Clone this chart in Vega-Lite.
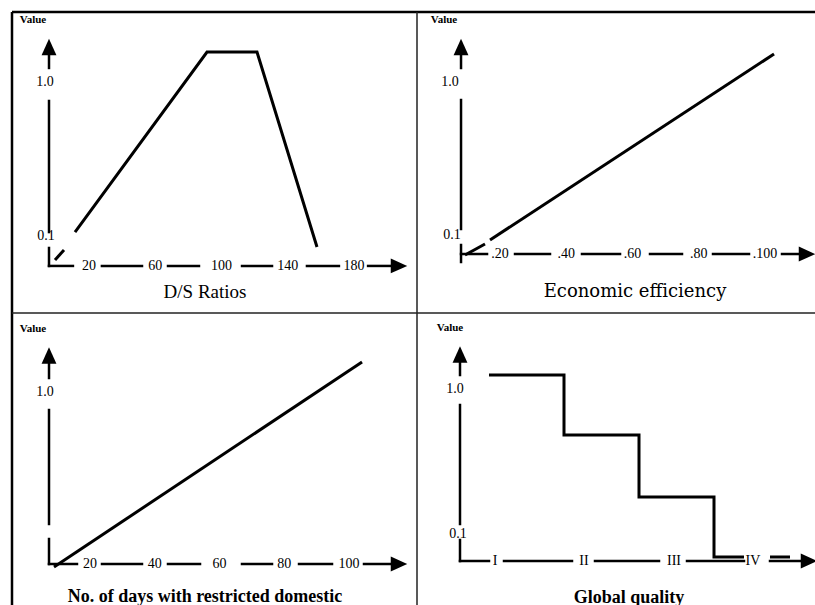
{
  "$schema": "https://vega.github.io/schema/vega-lite/v6.json",
  "padding": {"left": 10, "top": 10, "right": 0, "bottom": 0},
  "background": "white",
  "config": {"view": {"stroke": null}},
  "datasets": {
    "tl": [
      {"kind": "edge", "x": -26.49, "x2": 218.04, "y": 1.409, "y2": 1.409},
      {"kind": "edge", "x": -26.49, "x2": -26.49, "y": -0.35, "y2": 1.409},
      {"kind": "axis", "x": -4.15, "x2": -4.15, "y": 1.158, "y2": 1.082},
      {"kind": "axis", "x": -4.15, "x2": -4.15, "y": 0.889, "y2": 0.123},
      {"kind": "axis", "x": -4.15, "x2": -4.15, "y": 0.03, "y2": -0.075},
      {"kind": "axis", "x": -4.15, "x2": 10.3, "y": -0.075, "y2": -0.075},
      {"kind": "axis", "x": 27.8, "x2": 52.0, "y": -0.075, "y2": -0.075},
      {"kind": "axis", "x": 67.7, "x2": 86.4, "y": -0.075, "y2": -0.075},
      {"kind": "axis", "x": 112.4, "x2": 130.5, "y": -0.075, "y2": -0.075},
      {"kind": "axis", "x": 151.6, "x2": 170.9, "y": -0.075, "y2": -0.075},
      {"kind": "axis", "x": 188.5, "x2": 204.2, "y": -0.075, "y2": -0.075},
      {"kind": "arrow", "dir": "up", "x": -4.15, "y": 1.205},
      {"kind": "arrow", "dir": "right", "x": 207.17, "y": -0.075},
      {"kind": "tick", "label": "20", "x": 20, "y": -0.075},
      {"kind": "tick", "label": "60", "x": 60, "y": -0.075},
      {"kind": "tick", "label": "100", "x": 100, "y": -0.075},
      {"kind": "tick", "label": "140", "x": 140, "y": -0.075},
      {"kind": "tick", "label": "180", "x": 180, "y": -0.075},
      {"kind": "tick", "label": "1.0", "x": -6.57, "y": 1.0},
      {"kind": "tick", "label": "0.1", "x": -6.0, "y": 0.1},
      {"kind": "value", "label": "Value", "x": -13.81, "y": 1.362},
      {"kind": "curve", "seg": "a", "x": -0.53, "y": -0.04},
      {"kind": "curve", "seg": "a", "x": 4.9, "y": 0.018},
      {"kind": "curve", "seg": "b", "x": 11.55, "y": 0.123},
      {"kind": "curve", "seg": "b", "x": 91.25, "y": 1.175},
      {"kind": "curve", "seg": "b", "x": 121.43, "y": 1.175},
      {"kind": "curve", "seg": "b", "x": 157.66, "y": 0.036},
      {"kind": "title", "label": "D/S Ratios", "x": 90.04, "y": -0.227}
    ],
    "tr": [
      {"kind": "edge", "x": -0.0506, "x2": 1.1509, "y": 1.4118, "y2": 1.4118},
      {"kind": "divider", "x": -0.0506, "x2": -0.0506, "y": -0.3588, "y2": 1.4118},
      {"kind": "axis", "x": 0.0823, "x2": 0.0823, "y": 1.1588, "y2": 1.0824},
      {"kind": "axis", "x": 0.0823, "x2": 0.0823, "y": 0.8941, "y2": 0.1353},
      {"kind": "axis", "x": 0.0823, "x2": 0.0823, "y": 0.0412, "y2": -0.0588},
      {"kind": "axis", "x": 0.0823, "x2": 0.1608, "y": -0.0118, "y2": -0.0118},
      {"kind": "axis", "x": 0.2453, "x2": 0.3509, "y": -0.0118, "y2": -0.0118},
      {"kind": "axis", "x": 0.4475, "x2": 0.5623, "y": -0.0118, "y2": -0.0118},
      {"kind": "axis", "x": 0.6528, "x2": 0.7494, "y": -0.0118, "y2": -0.0118},
      {"kind": "axis", "x": 0.843, "x2": 0.9517, "y": -0.0118, "y2": -0.0118},
      {"kind": "axis", "x": 1.0513, "x2": 1.1057, "y": -0.0118, "y2": -0.0118},
      {"kind": "arrow", "dir": "up", "x": 0.0823, "y": 1.2059},
      {"kind": "arrow", "dir": "right", "x": 1.1268, "y": -0.0118},
      {"kind": "tick", "label": ".20", "x": 0.2, "y": -0.0118},
      {"kind": "tick", "label": ".40", "x": 0.4, "y": -0.0118},
      {"kind": "tick", "label": ".60", "x": 0.6, "y": -0.0118},
      {"kind": "tick", "label": ".80", "x": 0.8, "y": -0.0118},
      {"kind": "tick", "label": ".100", "x": 1.0, "y": -0.0118},
      {"kind": "tick", "label": "1.0", "x": 0.0491, "y": 1.0},
      {"kind": "tick", "label": "0.1", "x": 0.0551, "y": 0.1},
      {"kind": "value", "label": "Value", "x": 0.0309, "y": 1.3647},
      {"kind": "curve", "seg": "a", "x": 0.0943, "y": -0.0176},
      {"kind": "curve", "seg": "a", "x": 0.1547, "y": 0.0471},
      {"kind": "curve", "seg": "b", "x": 0.1698, "y": 0.0706},
      {"kind": "curve", "seg": "b", "x": 1.0272, "y": 1.1647},
      {"kind": "title", "label": "Economic efficiency", "x": 0.6075, "y": -0.2353}
    ],
    "bl": [
      {"kind": "divider", "x": -4.09, "x2": 121.0, "y": 1.4593, "y2": 1.4593},
      {"kind": "edge", "x": -4.09, "x2": -4.09, "y": -0.2384, "y2": 1.4593},
      {"kind": "axis", "x": 7.34, "x2": 7.34, "y": 1.1628, "y2": 1.0814},
      {"kind": "axis", "x": 7.34, "x2": 7.34, "y": 0.8953, "y2": 0.2326},
      {"kind": "axis", "x": 7.34, "x2": 7.34, "y": 0.1453, "y2": 0.0},
      {"kind": "axis", "x": 7.34, "x2": 15.98, "y": 0.0, "y2": 0.0},
      {"kind": "axis", "x": 23.71, "x2": 36.06, "y": 0.0, "y2": 0.0},
      {"kind": "axis", "x": 44.09, "x2": 53.98, "y": 0.0, "y2": 0.0},
      {"kind": "axis", "x": 66.95, "x2": 76.22, "y": 0.0, "y2": 0.0},
      {"kind": "axis", "x": 84.56, "x2": 94.75, "y": 0.0, "y2": 0.0},
      {"kind": "axis", "x": 104.63, "x2": 113.9, "y": 0.0, "y2": 0.0},
      {"kind": "arrow", "dir": "up", "x": 7.34, "y": 1.2122},
      {"kind": "arrow", "dir": "right", "x": 115.44, "y": 0.0},
      {"kind": "tick", "label": "20", "x": 20, "y": 0.0},
      {"kind": "tick", "label": "40", "x": 40, "y": 0.0},
      {"kind": "tick", "label": "60", "x": 60, "y": 0.0},
      {"kind": "tick", "label": "80", "x": 80, "y": 0.0},
      {"kind": "tick", "label": "100", "x": 100, "y": 0.0},
      {"kind": "tick", "label": "1.0", "x": 6.1, "y": 1.0},
      {"kind": "value", "label": "Value", "x": 2.39, "y": 1.3663},
      {"kind": "curve", "seg": "b", "x": 8.88, "y": -0.0174},
      {"kind": "curve", "seg": "b", "x": 104.02, "y": 1.1744},
      {"kind": "title", "label": "No. of days with restricted domestic", "x": 55.52, "y": -0.19}
    ],
    "br": [
      {"kind": "divider", "x": 0.093, "x2": 4.7209, "y": 1.4718, "y2": 1.4718},
      {"kind": "divider", "x": 0.093, "x2": 0.093, "y": -0.3408, "y2": 1.4718},
      {"kind": "axis", "x": 0.593, "x2": 0.593, "y": 1.1676, "y2": 1.0869},
      {"kind": "axis", "x": 0.593, "x2": 0.593, "y": 0.9007, "y2": 0.162},
      {"kind": "axis", "x": 0.593, "x2": 0.593, "y": 0.0627, "y2": -0.0677},
      {"kind": "axis", "x": 0.593, "x2": 0.9302, "y": -0.0677, "y2": -0.0677},
      {"kind": "axis", "x": 1.1047, "x2": 1.8953, "y": -0.0677, "y2": -0.0677},
      {"kind": "axis", "x": 2.1628, "x2": 2.907, "y": -0.0677, "y2": -0.0677},
      {"kind": "axis", "x": 3.2326, "x2": 3.8953, "y": -0.0677, "y2": -0.0677},
      {"kind": "axis", "x": 4.1977, "x2": 4.593, "y": -0.0677, "y2": -0.0677},
      {"kind": "arrow", "dir": "up", "x": 0.593, "y": 1.2142},
      {"kind": "arrow", "dir": "right", "x": 4.6512, "y": -0.0677},
      {"kind": "tick", "label": "I", "x": 1.0, "y": -0.0677},
      {"kind": "tick", "label": "II", "x": 2.035, "y": -0.0677},
      {"kind": "tick", "label": "III", "x": 3.081, "y": -0.0677},
      {"kind": "tick", "label": "IV", "x": 4.0, "y": -0.0677},
      {"kind": "tick", "label": "1.0", "x": 0.5349, "y": 1.0},
      {"kind": "tick", "label": "0.1", "x": 0.5698, "y": 0.1},
      {"kind": "value", "label": "Value", "x": 0.4767, "y": 1.3786},
      {"kind": "curve", "seg": "a", "x": 0.9302, "y": 1.0869},
      {"kind": "curve", "seg": "a", "x": 1.8023, "y": 0.7145},
      {"kind": "curve", "seg": "a", "x": 2.6744, "y": 0.3296},
      {"kind": "curve", "seg": "a", "x": 3.5465, "y": -0.0428},
      {"kind": "curve", "seg": "a", "x": 3.8953, "y": -0.0428},
      {"kind": "curve", "seg": "b", "x": 4.1977, "y": -0.0428},
      {"kind": "curve", "seg": "b", "x": 4.4302, "y": -0.0428},
      {"kind": "title", "label": "Global quality", "x": 2.5581, "y": -0.295}
    ]
  },
  "columns": 2,
  "spacing": 0,
  "bounds": "flush",
  "align": "each",
  "resolve": {"scale": {"x": "independent", "y": "independent"}},
  "concat": [
    {
      "width": 405, "height": 301,
      "data": {"name": "tl"},
      "encoding": {
        "x": {"field": "x", "type": "quantitative", "scale": {"domain": [-26.49, 218.04], "nice": false, "zero": false}, "axis": null},
        "y": {"field": "y", "type": "quantitative", "scale": {"domain": [-0.35, 1.409], "nice": false, "zero": false}, "axis": null}
      },
      "layer": [
        {"transform": [{"filter": "datum.kind === 'edge'"}], "mark": {"type": "rule", "color": "#000", "strokeWidth": 2.5}, "encoding": {"x2": {"field": "x2"}, "y2": {"field": "y2"}}},
        {"transform": [{"filter": "datum.kind === 'divider'"}], "mark": {"type": "rule", "color": "#222", "strokeWidth": 1.5}, "encoding": {"x2": {"field": "x2"}, "y2": {"field": "y2"}}},
        {"transform": [{"filter": "datum.kind === 'axis'"}], "mark": {"type": "rule", "color": "#000", "strokeWidth": 2.5, "strokeCap": "square", "clip": true}, "encoding": {"x2": {"field": "x2"}, "y2": {"field": "y2"}}},
        {"transform": [{"filter": "datum.kind === 'curve'"}], "mark": {"type": "line", "color": "#000", "strokeWidth": 3, "strokeJoin": "miter", "clip": true}, "encoding": {"detail": {"field": "seg", "type": "nominal"}}},
        {"transform": [{"filter": "datum.kind === 'arrow'"}], "mark": {"type": "point", "filled": true, "color": "#000", "opacity": 1, "size": 272, "strokeWidth": 0, "clip": true}, "encoding": {"shape": {"field": "dir", "type": "nominal", "scale": {"domain": ["up", "right"], "range": ["M0,-1L0.9,1L-0.9,1Z", "M1,0L-1,-0.9L-1,0.9Z"]}, "legend": null}}},
        {"transform": [{"filter": "datum.kind === 'tick'"}], "mark": {"type": "text", "font": "Liberation Serif, serif", "fontSize": 14, "color": "#000", "align": "center", "baseline": "middle", "clip": true}, "encoding": {"text": {"field": "label"}}},
        {"transform": [{"filter": "datum.kind === 'value'"}], "mark": {"type": "text", "font": "Liberation Serif, serif", "fontSize": 11, "fontWeight": "bold", "color": "#000", "align": "center", "baseline": "middle", "clip": true}, "encoding": {"text": {"field": "label"}}},
        {"transform": [{"filter": "datum.kind === 'title'"}], "mark": {"type": "text", "font": "Liberation Serif, serif", "fontSize": 19, "color": "#000", "align": "center", "baseline": "middle", "clip": true}, "encoding": {"text": {"field": "label"}}}
      ]
    },
    {
      "width": 398, "height": 301,
      "data": {"name": "tr"},
      "encoding": {
        "x": {"field": "x", "type": "quantitative", "scale": {"domain": [-0.0506, 1.1509], "nice": false, "zero": false}, "axis": null},
        "y": {"field": "y", "type": "quantitative", "scale": {"domain": [-0.3588, 1.4118], "nice": false, "zero": false}, "axis": null}
      },
      "layer": [
        {"transform": [{"filter": "datum.kind === 'edge'"}], "mark": {"type": "rule", "color": "#000", "strokeWidth": 2.5}, "encoding": {"x2": {"field": "x2"}, "y2": {"field": "y2"}}},
        {"transform": [{"filter": "datum.kind === 'divider'"}], "mark": {"type": "rule", "color": "#222", "strokeWidth": 1.5}, "encoding": {"x2": {"field": "x2"}, "y2": {"field": "y2"}}},
        {"transform": [{"filter": "datum.kind === 'axis'"}], "mark": {"type": "rule", "color": "#000", "strokeWidth": 2.5, "strokeCap": "square", "clip": true}, "encoding": {"x2": {"field": "x2"}, "y2": {"field": "y2"}}},
        {"transform": [{"filter": "datum.kind === 'curve'"}], "mark": {"type": "line", "color": "#000", "strokeWidth": 3, "strokeJoin": "miter", "clip": true}, "encoding": {"detail": {"field": "seg", "type": "nominal"}}},
        {"transform": [{"filter": "datum.kind === 'arrow'"}], "mark": {"type": "point", "filled": true, "color": "#000", "opacity": 1, "size": 272, "strokeWidth": 0, "clip": true}, "encoding": {"shape": {"field": "dir", "type": "nominal", "scale": {"domain": ["up", "right"], "range": ["M0,-1L0.9,1L-0.9,1Z", "M1,0L-1,-0.9L-1,0.9Z"]}, "legend": null}}},
        {"transform": [{"filter": "datum.kind === 'tick'"}], "mark": {"type": "text", "font": "Liberation Serif, serif", "fontSize": 14, "color": "#000", "align": "center", "baseline": "middle", "clip": true}, "encoding": {"text": {"field": "label"}}},
        {"transform": [{"filter": "datum.kind === 'value'"}], "mark": {"type": "text", "font": "Liberation Serif, serif", "fontSize": 11, "fontWeight": "bold", "color": "#000", "align": "center", "baseline": "middle", "clip": true}, "encoding": {"text": {"field": "label"}}},
        {"transform": [{"filter": "datum.kind === 'title'"}], "mark": {"type": "text", "font": "DejaVu Serif", "fontSize": 18, "color": "#000", "align": "center", "baseline": "middle", "clip": true}, "encoding": {"text": {"field": "label"}}}
      ]
    },
    {
      "width": 405, "height": 292,
      "data": {"name": "bl"},
      "encoding": {
        "x": {"field": "x", "type": "quantitative", "scale": {"domain": [-4.09, 121.0], "nice": false, "zero": false}, "axis": null},
        "y": {"field": "y", "type": "quantitative", "scale": {"domain": [-0.2384, 1.4593], "nice": false, "zero": false}, "axis": null}
      },
      "layer": [
        {"transform": [{"filter": "datum.kind === 'edge'"}], "mark": {"type": "rule", "color": "#000", "strokeWidth": 2.5}, "encoding": {"x2": {"field": "x2"}, "y2": {"field": "y2"}}},
        {"transform": [{"filter": "datum.kind === 'divider'"}], "mark": {"type": "rule", "color": "#222", "strokeWidth": 1.5}, "encoding": {"x2": {"field": "x2"}, "y2": {"field": "y2"}}},
        {"transform": [{"filter": "datum.kind === 'axis'"}], "mark": {"type": "rule", "color": "#000", "strokeWidth": 2.5, "strokeCap": "square", "clip": true}, "encoding": {"x2": {"field": "x2"}, "y2": {"field": "y2"}}},
        {"transform": [{"filter": "datum.kind === 'curve'"}], "mark": {"type": "line", "color": "#000", "strokeWidth": 3, "strokeJoin": "miter", "clip": true}, "encoding": {"detail": {"field": "seg", "type": "nominal"}}},
        {"transform": [{"filter": "datum.kind === 'arrow'"}], "mark": {"type": "point", "filled": true, "color": "#000", "opacity": 1, "size": 272, "strokeWidth": 0, "clip": true}, "encoding": {"shape": {"field": "dir", "type": "nominal", "scale": {"domain": ["up", "right"], "range": ["M0,-1L0.9,1L-0.9,1Z", "M1,0L-1,-0.9L-1,0.9Z"]}, "legend": null}}},
        {"transform": [{"filter": "datum.kind === 'tick'"}], "mark": {"type": "text", "font": "Liberation Serif, serif", "fontSize": 14, "color": "#000", "align": "center", "baseline": "middle", "clip": true}, "encoding": {"text": {"field": "label"}}},
        {"transform": [{"filter": "datum.kind === 'value'"}], "mark": {"type": "text", "font": "Liberation Serif, serif", "fontSize": 11, "fontWeight": "bold", "color": "#000", "align": "center", "baseline": "middle", "clip": true}, "encoding": {"text": {"field": "label"}}},
        {"transform": [{"filter": "datum.kind === 'title'"}], "mark": {"type": "text", "font": "Liberation Serif, serif", "fontSize": 18, "fontWeight": "bold", "color": "#000", "align": "center", "baseline": "middle", "clip": true}, "encoding": {"text": {"field": "label"}}}
      ]
    },
    {
      "width": 398, "height": 292,
      "data": {"name": "br"},
      "encoding": {
        "x": {"field": "x", "type": "quantitative", "scale": {"domain": [0.093, 4.7209], "nice": false, "zero": false}, "axis": null},
        "y": {"field": "y", "type": "quantitative", "scale": {"domain": [-0.3408, 1.4718], "nice": false, "zero": false}, "axis": null}
      },
      "layer": [
        {"transform": [{"filter": "datum.kind === 'edge'"}], "mark": {"type": "rule", "color": "#000", "strokeWidth": 2.5}, "encoding": {"x2": {"field": "x2"}, "y2": {"field": "y2"}}},
        {"transform": [{"filter": "datum.kind === 'divider'"}], "mark": {"type": "rule", "color": "#222", "strokeWidth": 1.5}, "encoding": {"x2": {"field": "x2"}, "y2": {"field": "y2"}}},
        {"transform": [{"filter": "datum.kind === 'axis'"}], "mark": {"type": "rule", "color": "#000", "strokeWidth": 2.5, "strokeCap": "square", "clip": true}, "encoding": {"x2": {"field": "x2"}, "y2": {"field": "y2"}}},
        {"transform": [{"filter": "datum.kind === 'curve'"}], "mark": {"type": "line", "color": "#000", "strokeWidth": 3, "strokeJoin": "miter", "interpolate": "step-after", "clip": true}, "encoding": {"detail": {"field": "seg", "type": "nominal"}}},
        {"transform": [{"filter": "datum.kind === 'arrow'"}], "mark": {"type": "point", "filled": true, "color": "#000", "opacity": 1, "size": 272, "strokeWidth": 0, "clip": true}, "encoding": {"shape": {"field": "dir", "type": "nominal", "scale": {"domain": ["up", "right"], "range": ["M0,-1L0.9,1L-0.9,1Z", "M1,0L-1,-0.9L-1,0.9Z"]}, "legend": null}}},
        {"transform": [{"filter": "datum.kind === 'tick'"}], "mark": {"type": "text", "font": "Liberation Serif, serif", "fontSize": 14, "color": "#000", "align": "center", "baseline": "middle", "clip": true}, "encoding": {"text": {"field": "label"}}},
        {"transform": [{"filter": "datum.kind === 'value'"}], "mark": {"type": "text", "font": "Liberation Serif, serif", "fontSize": 11, "fontWeight": "bold", "color": "#000", "align": "center", "baseline": "middle", "clip": true}, "encoding": {"text": {"field": "label"}}},
        {"transform": [{"filter": "datum.kind === 'title'"}], "mark": {"type": "text", "font": "Liberation Serif, serif", "fontSize": 18, "fontWeight": "bold", "color": "#000", "align": "center", "baseline": "middle", "clip": true}, "encoding": {"text": {"field": "label"}}}
      ]
    }
  ]
}
